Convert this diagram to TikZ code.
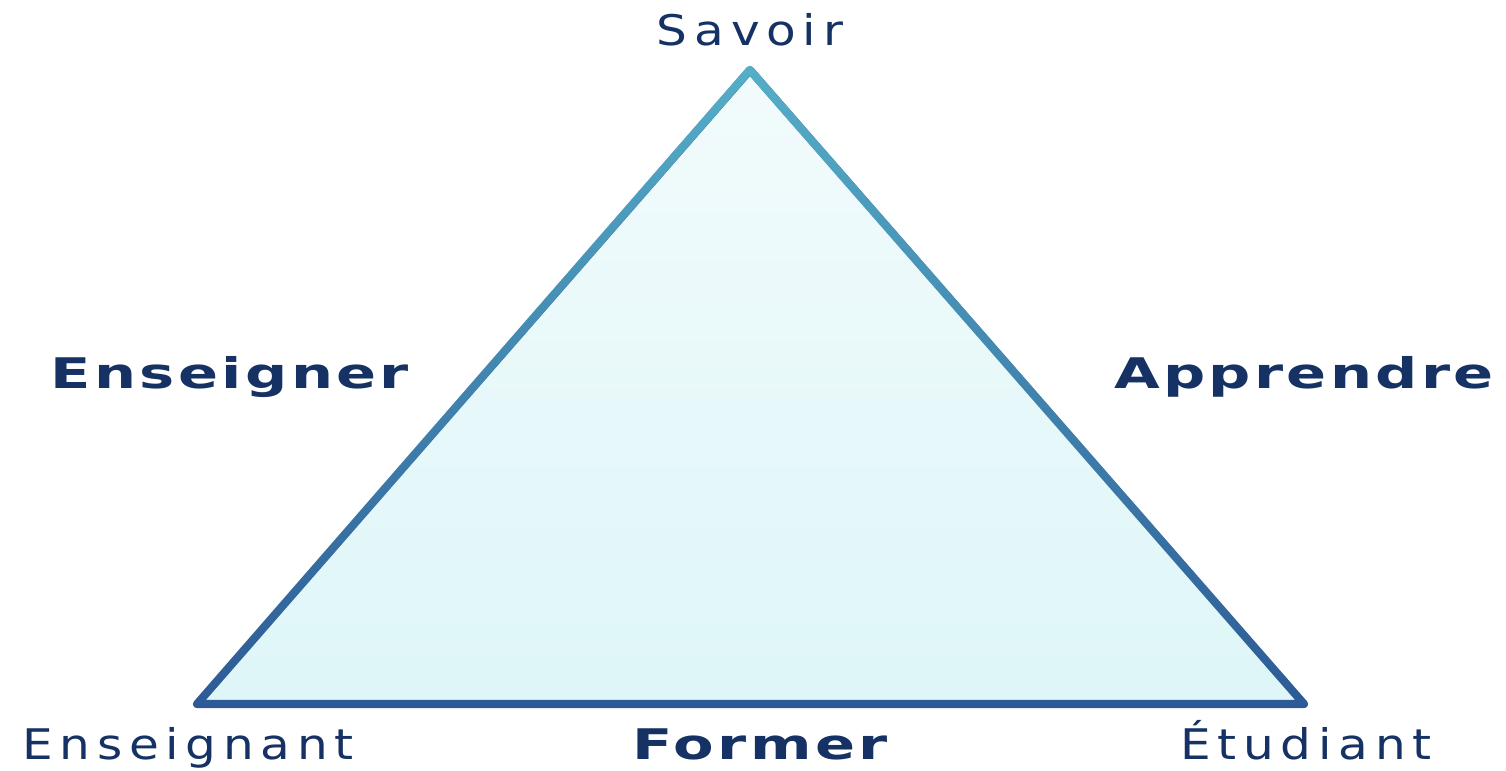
\documentclass[tikz,border=0pt]{standalone}
\usepackage{fontspec}
\usetikzlibrary{fadings}
\newfontfamily\vertexfont[LetterSpace=16,FakeStretch=1.15]{DejaVu Sans}
\newfontfamily\actionfont[LetterSpace=8,FakeStretch=1.4]{DejaVu Sans Bold}

\definecolor{edgeteal}{RGB}{85,175,200}
\definecolor{edgeblue}{RGB}{45,90,150}
\definecolor{fillcyan}{RGB}{222,246,248}
\definecolor{fillpale}{RGB}{242,251,252}
\definecolor{labelnavy}{RGB}{22,50,100}

\tikzset{
    vertexlabel/.style={text=labelnavy,font=\vertexfont\fontsize{12}{14}\selectfont,inner sep=0pt,anchor=base},
    actionlabel/.style={text=labelnavy,font=\actionfont\fontsize{12}{14}\selectfont,inner sep=0pt,anchor=base}
}

\begin{document}
\begin{tikzpicture}[x=0.1mm,y=-0.1mm,line cap=round,line join=round]
        \useasboundingbox (0,0) rectangle (1506,770);

        % Vértices del triángulo
        \coordinate (savoir) at (750,70);
        \coordinate (enseignant) at (197,704);
        \coordinate (etudiant) at (1304,704);

        % Relleno del triángulo
        \shade[top color=fillpale,bottom color=fillcyan]
            (savoir) -- (etudiant) -- (enseignant) -- cycle;

        % Lados: azul oscuro abajo, turquesa arriba
        \draw[edgeblue,line width=2.3pt]
            (savoir) -- (etudiant) -- (enseignant) -- cycle;
        \draw[edgeteal,line width=2.3pt,path fading=south]
            (savoir) -- (etudiant) -- (enseignant) -- cycle;

        % Polos
        \node[vertexlabel] (lsavoir) at (750,45) {Savoir};
        \node[vertexlabel] (lenseignant) at (188,759) {Enseignant};
        \node[vertexlabel] (letudiant) at (1306,759) {Étudiant};

        % Processus
        \node[actionlabel] (lenseigner) at (230,388) {Enseigner};
        \node[actionlabel] (lapprendre) at (1304,388) {Apprendre};
        \node[actionlabel] (lformer) at (760,759) {Former};
    \end{tikzpicture}
\end{document}
